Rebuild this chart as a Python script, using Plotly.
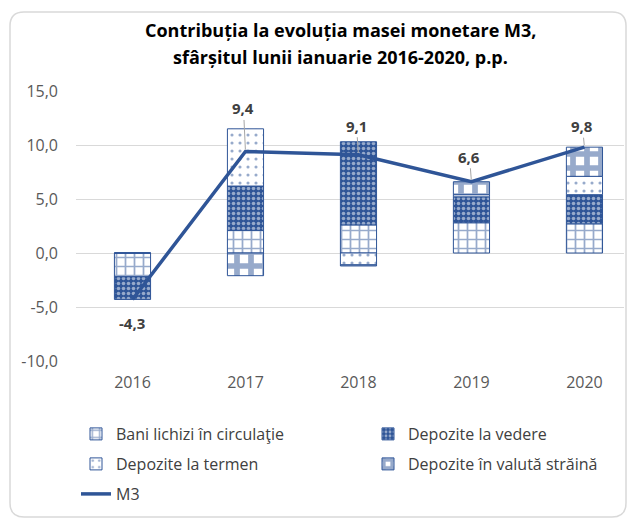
import plotly.graph_objects as go

years = ["2016", "2017", "2018", "2019", "2020"]
bani = [-2.2, 2.1, 2.6, 2.8, 2.7]
vedere = [-2.1, 4.1, 7.7, 2.4, 2.7]
termen = [0.0, 5.3, -1.1, 0.2, 1.7]
valuta = [0.0, -2.1, -0.1, 1.2, 2.7]
m3 = [-4.3, 9.4, 9.1, 6.6, 9.8]
m3_labels = ["-4,3", "9,4", "9,1", "6,6", "9,8"]
label_offsets = [24, -43, -29, -25, -21]
tick_vals = [-10, -5, 0, 5, 10, 15]
tick_text = ["-10,0", "-5,0", "0,0", "5,0", "10,0", "15,0"]

BLUE = "#2F5597"
FONT = "Open Sans"

fig = go.Figure()

def bar(name, vals, shape, fg, bg, size, sol, legend):
    fig.add_trace(go.Bar(
        x=years, y=vals, name=name, width=0.32, legend=legend,
        marker=dict(color=bg, line=dict(color=BLUE, width=1),
                    pattern=dict(shape=shape, fgcolor=fg, bgcolor=bg,
                                 size=size, solidity=sol, fillmode="overlay")),
        hoverinfo="y+name"))

bar("Bani lichizi în circulaţie", bani, "+", BLUE, "white", 9, 0.35, "legend")
bar("Depozite la vedere", vedere, ".", "white", BLUE, 5, 0.4, "legend2")
bar("Depozite la termen", termen, ".", BLUE, "white", 8, 0.12, "legend3")
bar("Depozite în valută străină", valuta, "+", BLUE, "white", 14, 0.65, "legend4")

fig.add_trace(go.Scatter(x=years, y=m3, name="M3", mode="lines", legend="legend5",
                         line=dict(color=BLUE, width=3.5)))

for i, (v, lab, off) in enumerate(zip(m3, m3_labels, label_offsets)):
    if i == 0:
        fig.add_annotation(x=i, y=v, text="<b>" + lab + "</b>", showarrow=False,
                           yshift=-off, font=dict(family=FONT, size=15, color="#404040"))
    else:
        fig.add_annotation(x=i, y=v, text="<b>" + lab + "</b>", showarrow=True,
                           arrowhead=0, arrowwidth=1, arrowcolor="#A6A6A6",
                           ax=-2, ay=off, standoff=2,
                           font=dict(family=FONT, size=15, color="#404040"))

fig.add_annotation(xref="paper", yref="paper", x=0.482, y=1.0 + (91 - 30) / 270,
                   yanchor="middle",
                   text="<b>Contribuția la evoluția masei monetare M3,</b>",
                   showarrow=False, font=dict(family=FONT, size=18, color="black"))
fig.add_annotation(xref="paper", yref="paper", x=0.482, y=1.0 + (91 - 57) / 270,
                   yanchor="middle",
                   text="<b>sfârșitul lunii ianuarie 2016-2020, p.p.</b>",
                   showarrow=False, font=dict(family=FONT, size=18, color="black"))

# rounded chart frame (paper units: 1px x = 1/548, 1px y = 1/270)
x0, x1 = (10 - 76) / 548, (626 - 76) / 548
y1, y0 = 1 + (91 - 12) / 270, -(517 - 361) / 270
rx, ry = 14 / 548, 14 / 270
path = (f"M {x0+rx},{y1} L {x1-rx},{y1} Q {x1},{y1} {x1},{y1-ry} "
        f"L {x1},{y0+ry} Q {x1},{y0} {x1-rx},{y0} L {x0+rx},{y0} "
        f"Q {x0},{y0} {x0},{y0+ry} L {x0},{y1-ry} Q {x0},{y1} {x0+rx},{y1} Z")
fig.add_shape(type="path", xref="paper", yref="paper", layer="below", path=path,
              line=dict(color="#D9D9D9", width=1.5), fillcolor="rgba(0,0,0,0)")

leg_font = dict(family=FONT, size=16, color="#404040")
def leg(xpx_text, ypx):
    return dict(orientation="h", x=(xpx_text - 42 - 76) / 548, y=-(ypx - 361) / 270,
                xanchor="left", yanchor="middle", font=leg_font,
                bgcolor="rgba(0,0,0,0)")

fig.update_layout(
    width=629, height=521,
    margin=dict(l=76, r=5, t=91, b=160),
    paper_bgcolor="white", plot_bgcolor="white",
    barmode="relative",
    font=dict(family=FONT, size=16, color="#595959"),
    showlegend=True,
    legend=leg(118, 434), legend2=leg(410, 434),
    legend3=leg(118, 464), legend4=leg(410, 464),
    legend5=leg(118, 494),
    xaxis=dict(type="category", range=[-0.5, 4.35], showgrid=False,
               showline=False, ticks="", tickfont=dict(size=16),
               ticklabelstandoff=10),
    yaxis=dict(range=[-10, 15], tickvals=tick_vals, ticktext=tick_text,
               showgrid=True, gridcolor="#D9D9D9", gridwidth=1,
               zeroline=False, showline=False, tickfont=dict(size=16),
               ticklabelstandoff=17),
)

fig.write_html("out.html", config={"displayModeBar": False},
               post_script="document.body.style.margin='0';")
